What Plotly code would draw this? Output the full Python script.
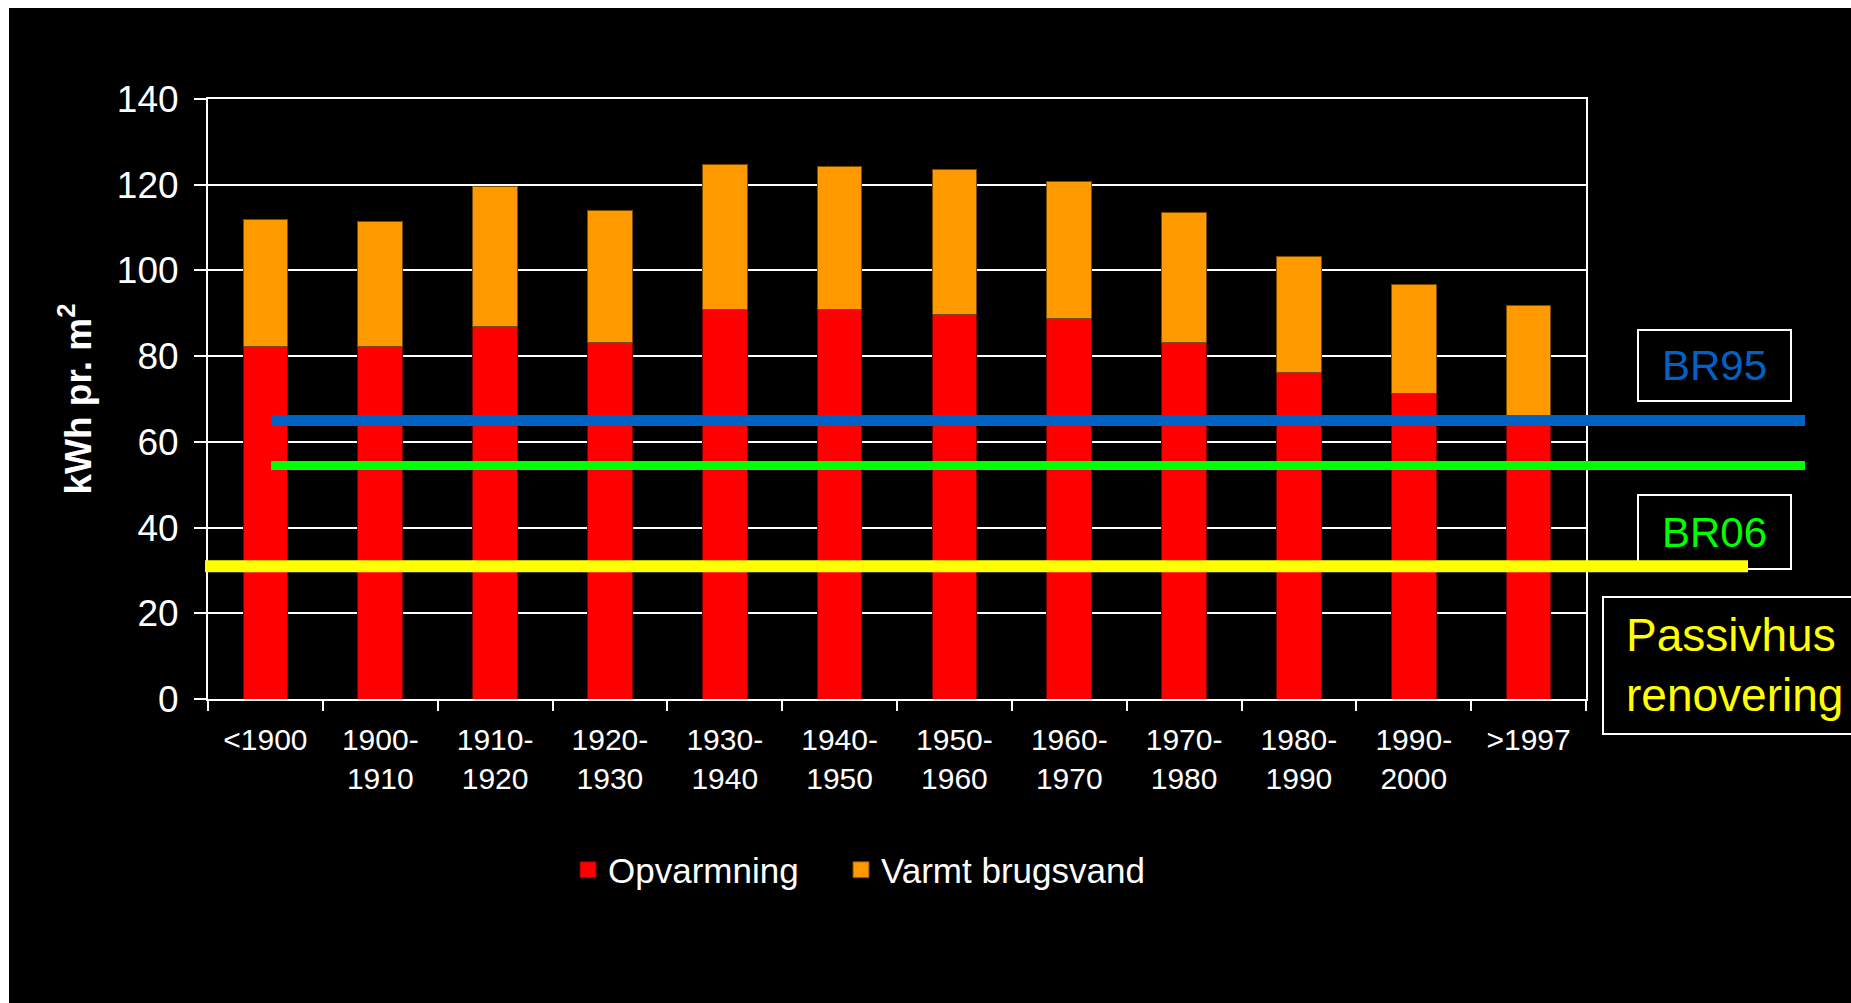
import plotly.graph_objects as go

# ---- data ----
categories = ["<1900", "1900-<br>1910", "1910-<br>1920", "1920-<br>1930", "1930-<br>1940",
              "1940-<br>1950", "1950-<br>1960", "1960-<br>1970", "1970-<br>1980",
              "1980-<br>1990", "1990-<br>2000", ">1997"]
opvarmning = [82.2, 82.2, 87.0, 83.2, 90.9, 90.9, 89.8, 88.8, 83.3, 76.2, 71.3, 66.0]
varmt_brugsvand = [29.8, 29.2, 32.7, 30.9, 33.8, 33.3, 33.8, 31.9, 30.3, 27.1, 25.5, 25.9]

series_names = ["Opvarmning", "Varmt brugsvand"]
series_colors = ["#FF0000", "#FF9900"]
series_edges = ["#7A0000", "#7A4A00"]

level_names = ["BR95", "BR06", "Passivhus<br>renovering"]
level_values = [65, 54.5, 31]
level_colors = ["#0062C4", "#00FF00", "#FFFF00"]

y_ticks = [0, 20, 40, 60, 80, 100, 120, 140]

# ---- layout geometry (pixels) ----
W, H = 1851, 1003
L, R, T, B = 208, 265, 99, 304
PW, PH = W - L - R, H - T - B


def px_x(p):
    return (p - L) / PW


def px_y(p):
    return (H - B - p) / PH


SANS = "Liberation Sans, Arial, sans-serif"

fig = go.Figure()
for vals, nm, col, edge in zip([opvarmning, varmt_brugsvand], series_names, series_colors, series_edges):
    fig.add_trace(go.Bar(x=categories, y=vals, name=nm, showlegend=False,
                         marker=dict(color=col, line=dict(color=edge, width=1))))
# legend swatches (larger squares than the default bar icon), one legend per entry
legend_ids = ["legend", "legend2"]
for nm, col, edge, lg in zip(series_names, series_colors, series_edges, legend_ids):
    fig.add_trace(go.Scatter(x=[None], y=[None], mode="markers", name=nm, legend=lg,
                             marker=dict(symbol="square", size=16, color=col,
                                         line=dict(color=edge, width=1))))

shapes = []
# white strips at top and left edge (slide screenshot border)
shapes.append(dict(type="rect", xref="paper", yref="paper", x0=px_x(0), x1=px_x(W),
                   y0=px_y(8), y1=px_y(0), fillcolor="white", line=dict(width=0)))
shapes.append(dict(type="rect", xref="paper", yref="paper", x0=px_x(0), x1=px_x(9),
                   y0=px_y(H), y1=px_y(0), fillcolor="white", line=dict(width=0)))

# label boxes
boxes = [(1638, 1791, 330, 401), (1638, 1791, 495, 569), (1603, 1875, 597, 734)]
for (bx0, bx1, by0, by1) in boxes:
    shapes.append(dict(type="rect", xref="paper", yref="paper",
                       x0=px_x(bx0), x1=px_x(bx1), y0=px_y(by1), y1=px_y(by0),
                       line=dict(color="white", width=2), fillcolor="rgba(0,0,0,0)"))

# reference lines
line_extents = [(271, 1805, 11), (271, 1805, 9), (205, 1748, 12)]
for val, col, (lx0, lx1, lw) in zip(level_values, level_colors, line_extents):
    shapes.append(dict(type="line", xref="paper", yref="y", x0=px_x(lx0), x1=px_x(lx1),
                       y0=val, y1=val, line=dict(color=col, width=lw)))

annotations = [
    dict(text=level_names[0], xref="paper", yref="paper", x=px_x(1714), y=px_y(365),
         showarrow=False, font=dict(family=SANS, size=42, color=level_colors[0]),
         xanchor="center", yanchor="middle"),
    dict(text=level_names[1], xref="paper", yref="paper", x=px_x(1714), y=px_y(532),
         showarrow=False, font=dict(family=SANS, size=42, color=level_colors[1]),
         xanchor="center", yanchor="middle"),
    dict(text=level_names[2], xref="paper", yref="paper", x=px_x(1624), y=px_y(665),
         showarrow=False, font=dict(family=SANS, size=46, color=level_colors[2]),
         xanchor="left", yanchor="middle", align="left"),
]

legend_style = dict(orientation="h", yanchor="middle", y=px_y(870), xanchor="left",
                    font=dict(family=SANS, size=35, color="white"), bgcolor="rgba(0,0,0,0)",
                    itemwidth=30)

fig.update_layout(
    width=W, height=H,
    margin=dict(l=L, r=R, t=T, b=B, autoexpand=False),
    paper_bgcolor="black", plot_bgcolor="black",
    barmode="stack", bargap=0.61,
    shapes=shapes, annotations=annotations,
    showlegend=True,
    legend=dict(legend_style, x=px_x(568)),
    legend2=dict(legend_style, x=px_x(841)),
    xaxis=dict(type="category", showline=True, linecolor="white", linewidth=2, mirror=True,
               ticks="outside", tickson="boundaries", ticklen=10, tickwidth=2, tickcolor="white",
               showgrid=False, tickfont=dict(family=SANS, size=30, color="white"),
               ticklabelstandoff=13),
    yaxis=dict(range=[0, 140], tickvals=y_ticks, showline=True, linecolor="white", linewidth=2,
               mirror=True, ticks="outside", ticklen=12, tickwidth=2, tickcolor="white",
               showgrid=True, gridcolor="white", gridwidth=2, zeroline=False,
               tickfont=dict(family=SANS, size=37, color="white"), ticklabelstandoff=8,
               title=dict(text="<b>kWh pr. m<sup>2</sup></b>",
                          font=dict(family=SANS, size=37, color="white"), standoff=14)),
)

fig.write_html(
    "out.html",
    config={"displayModeBar": False},
    post_script="document.body.style.margin='0px';"
                "document.body.style.overflow='hidden';"
                "document.documentElement.style.overflow='hidden';",
)
